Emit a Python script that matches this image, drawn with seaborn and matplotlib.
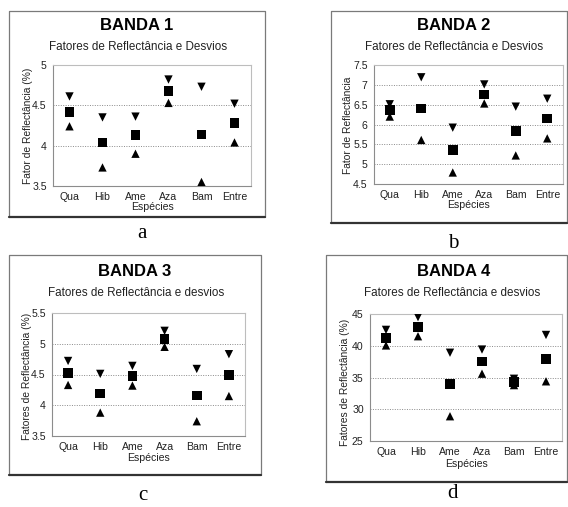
import matplotlib
matplotlib.use("Agg")
import matplotlib.pyplot as plt
import seaborn as sns
import pandas as pd
from matplotlib.lines import Line2D

sns.set_style("white")
plt.rcParams['font.family'] = ['Liberation Sans', 'DejaVu Sans']

species = ["Qua", "Hib", "Ame", "Aza", "Bam", "Entre"]

b1_mean = [4.42, 4.04, 4.13, 4.68, 4.14, 4.28]
b1_up   = [4.61, 4.35, 4.36, 4.82, 4.73, 4.52]
b1_low  = [4.24, 3.73, 3.90, 4.53, 3.55, 4.04]

b2_mean = [6.36, 6.40, 5.35, 6.76, 5.84, 6.15]
b2_up   = [6.51, 7.19, 5.92, 7.01, 6.45, 6.65]
b2_low  = [6.20, 5.61, 4.79, 6.53, 5.22, 5.65]

b3_mean = [4.52, 4.19, 4.48, 5.08, 4.16, 4.49]
b3_up   = [4.72, 4.51, 4.64, 5.21, 4.59, 4.83]
b3_low  = [4.33, 3.88, 4.32, 4.95, 3.74, 4.15]

b4_mean = [41.2, 43.0, 33.95, 37.5, 34.3, 37.9]
b4_up   = [42.5, 44.5, 38.9, 39.4, 34.8, 41.7]
b4_low  = [40.05, 41.5, 28.9, 35.6, 33.8, 34.4]

titles = ["BANDA 1", "BANDA 2", "BANDA 3", "BANDA 4"]
subtitles = ["Fatores de Reflectância e Desvios", "Fatores de Reflectância e Desvios",
             "Fatores de Reflectância e desvios", "Fatores de Reflectância e desvios"]
ylabels = ["Fator de Reflectância (%)", "Fator de Reflectância",
           "Fatores de Reflectância (%)", "Fatores de Reflectância (%)"]
xlabel = "Espécies"
letters = ["a", "b", "c", "d"]
ylims = [(3.5, 5), (4.5, 7.5), (3.5, 5.5), (25, 45)]
ysteps = [0.5, 0.5, 0.5, 5]
yticklabels = [["3.5", "4", "4.5", "5"],
               ["4.5", "5", "5.5", "6", "6.5", "7", "7.5"],
               ["3.5", "4", "4.5", "5", "5.5"],
               ["25", "30", "35", "40", "45"]]
data = [(b1_mean, b1_up, b1_low), (b2_mean, b2_up, b2_low),
        (b3_mean, b3_up, b3_low), (b4_mean, b4_up, b4_low)]

W, H = 568, 507
fig = plt.figure(figsize=(W / 100, H / 100), dpi=100)
fig.patch.set_facecolor("white")

def fx(x):
    return x / W

def fy(y):
    return 1 - y / H

# layout in pixels
axes_px = [(53, 65, 251, 186), (374, 65, 563, 184), (52, 313, 245, 436), (370, 314, 562, 441)]
boxes_px = [(9, 11, 265, 217), (331, 11, 567, 223), (9, 255, 261, 475), (326, 255, 567, 482)]
title_px = [(137, 26), (454, 26), (135, 272), (454, 272)]
sub_px = [(138, 47), (454, 47), (136, 293), (452, 293)]
ylab_px = [(28, 126), (348, 125), (27, 376), (345, 382)]
xlab_px = [(152, 207), (469, 205), (148, 458), (466, 464)]
letter_px = [(142, 233), (453, 243), (143, 495), (452, 494)]

for i in range(4):
    l, t, r, b = boxes_px[i]
    fig.add_artist(Line2D([fx(l), fx(l), fx(r), fx(r)], [fy(b), fy(t), fy(t), fy(b)],
                          transform=fig.transFigure, color="#7a7a7a", lw=0.9))
    fig.add_artist(Line2D([fx(l), fx(r)], [fy(b), fy(b)],
                          transform=fig.transFigure, color="#333333", lw=1.6))

    al, at, ar, ab = axes_px[i]
    ax = fig.add_axes([fx(al), fy(ab), fx(ar - al), (ab - at) / H])
    mean, up, low = data[i]
    df = pd.DataFrame({"sp": species, "mean": mean, "up": up, "low": low})
    sns.scatterplot(data=df, x="sp", y="up", marker="v", color="black", s=36,
                    edgecolor="none", ax=ax, zorder=3)
    sns.scatterplot(data=df, x="sp", y="low", marker="^", color="black", s=36,
                    edgecolor="none", ax=ax, zorder=3)
    sns.scatterplot(data=df, x="sp", y="mean", marker="s", color="black", s=48,
                    edgecolor="none", ax=ax, zorder=4)
    ax.set_xlim(-0.5, 5.5)
    lo, hi = ylims[i]
    ax.set_ylim(lo, hi)
    n = len(yticklabels[i])
    ticks = [lo + k * ysteps[i] for k in range(n)]
    ax.set_yticks(ticks)
    ax.set_yticklabels(yticklabels[i])
    ax.set_xticks(range(len(species)))
    ax.set_xticklabels(species)
    ax.set_xlabel("")
    ax.set_ylabel("")
    for tk in ticks[1:-1]:
        ax.axhline(tk, color="#8a8a8a", lw=0.7, ls=(0, (1, 1.5)), zorder=1)
    for side in ["top", "right"]:
        ax.spines[side].set_color("#bdbdbd")
        ax.spines[side].set_linewidth(0.8)
    for side in ["left", "bottom"]:
        ax.spines[side].set_color("#8c8c8c")
        ax.spines[side].set_linewidth(0.8)
    ax.tick_params(axis="both", direction="out", length=3, width=0.6, color="#8c8c8c",
                   labelsize=7.6, labelcolor="#222222", pad=1.5)
    if i == 3:
        ax.set_yticks([lo + k for k in range(int(hi - lo) + 1)], minor=True)
        ax.tick_params(axis="y", which="minor", direction="out", length=1.5, width=0.5,
                       color="#8c8c8c")

    fig.text(fx(title_px[i][0]), fy(title_px[i][1]), titles[i], ha="center", va="center",
             fontsize=12, fontweight="bold", color="black")
    fig.text(fx(sub_px[i][0]), fy(sub_px[i][1]), subtitles[i], ha="center", va="center",
             fontsize=8.4, color="#222222")
    fig.text(fx(ylab_px[i][0]), fy(ylab_px[i][1]), ylabels[i], ha="center", va="center",
             rotation=90, fontsize=7.4, color="#222222")
    fig.text(fx(xlab_px[i][0]), fy(xlab_px[i][1]), xlabel, ha="center", va="center",
             fontsize=7.6, color="#222222")
    fig.text(fx(letter_px[i][0]), fy(letter_px[i][1]), letters[i], ha="center", va="center",
             fontsize=15, family=["Liberation Serif", "DejaVu Serif"], color="black")

fig.savefig("out.png", dpi=100, facecolor="white")
